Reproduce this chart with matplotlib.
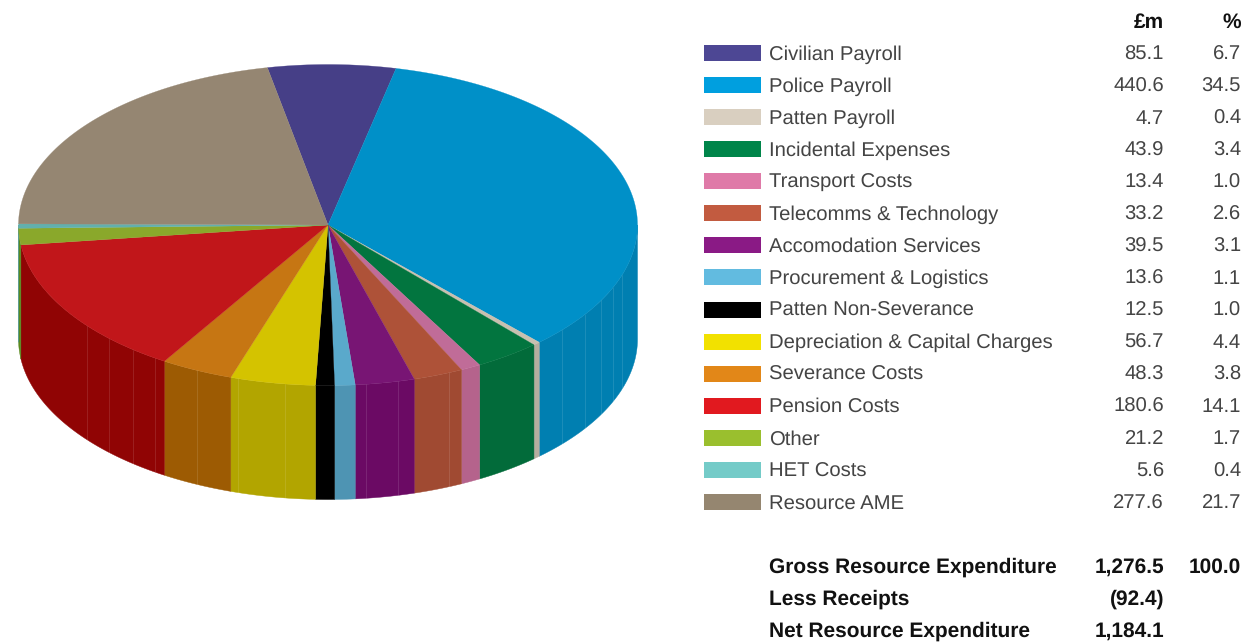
"""
Resource expenditure breakdown: extruded pie with a table-style legend.
"""
import numpy as np
import matplotlib
matplotlib.use('Agg')
import matplotlib.pyplot as plt

plt.rcParams['font.family'] = ['Liberation Sans', 'DejaVu Sans']
plt.rcParams['text.hinting'] = 'no_hinting'

# ─── Data ────────────────────────────────────────────────────────────────────

categories = ['Civilian Payroll', 'Police Payroll', 'Patten Payroll', 'Incidental Expenses',
              'Transport Costs', 'Telecomms & Technology', 'Accomodation Services',
              'Procurement & Logistics', 'Patten Non-Severance', 'Depreciation & Capital Charges',
              'Severance Costs', 'Pension Costs', 'Other', 'HET Costs', 'Resource AME']
amounts = [85.1, 440.6, 4.7, 43.9, 13.4, 33.2, 39.5, 13.6, 12.5, 56.7, 48.3, 180.6, 21.2, 5.6, 277.6]
percents = ['6.7', '34.5', '0.4', '3.4', '1.0', '2.6', '3.1', '1.1', '1.0', '4.4', '3.8', '14.1',
            '1.7', '0.4', '21.7']
totals_labels = ['Gross Resource Expenditure', 'Less Receipts', 'Net Resource Expenditure']
totals_amounts = ['1,276.5', '(92.4)', '1,184.1']
totals_percents = ['100.0', '', '']

legend_colors = ['#4d4794', '#009fdf', '#d9cfc0', '#00854a', '#df7aa8', '#c25b40', '#8a1a85',
                 '#62bbe0', '#000000', '#f2e100', '#e28718', '#e1191f', '#9abf2e', '#74cbc8',
                 '#958670']
top_colors = ['#463f87', '#0090c8', '#c8c0b0', '#02753f', '#c06c98', '#ae5238', '#781574',
              '#5aa9cb', '#000000', '#d4c300', '#c67613', '#c1161a', '#8aa82b', '#62b0ad',
              '#958672']
side_colors = ['#3c3676', '#007fb1', '#b5ae9f', '#026b3a', '#b5638c', '#a04a32', '#6b0a64',
               '#4e94b3', '#000000', '#b2a500', '#9d5b03', '#900404', '#5a8a20', '#549a97',
               '#82745f']

# ─── Pie geometry (pixels) ───────────────────────────────────────────────────

CX, CY = 328, 225
RX, RY = 309.5, 160.5
DEPTH = 114
START = -11.3  # degrees clockwise from the top of the disc


def rim(t_deg):
    t = np.radians(t_deg)
    return CX + RX * np.sin(t), CY - RY * np.cos(t)


fig = plt.figure(figsize=(12.47, 6.43), dpi=100)
fig.patch.set_facecolor('white')
ax = fig.add_axes([0, 0, 1, 1])
ax.set_xlim(0, 1247)
ax.set_ylim(643, 0)
ax.axis('off')

sweep = 360 * np.array(amounts) / np.sum(amounts)
edges = START + np.concatenate([[0], np.cumsum(sweep)])

# ─── Side walls, front half only ─────────────────────────────────────────────

for a0, a1, col in zip(edges[:-1], edges[1:], side_colors):
    lo, hi = max(a0, 90), min(a1, 270)
    if hi <= lo:
        continue
    ts = np.linspace(lo, hi, 60)
    xs, ys = rim(ts)
    ax.fill(np.r_[xs, xs[::-1]], np.r_[ys, ys[::-1] + DEPTH],
            color=col, lw=0.3, zorder=2)

# faint facet seams on the wall
for t in [108, 113, 118, 124, 131, 157, 167, 173, 188, 197, 205, 214, 219, 225, 231]:
    x, y = rim(t)
    ax.plot([x, x], [y, y + DEPTH], color='white', lw=0.6, alpha=0.13, zorder=3)

# ─── Top face ────────────────────────────────────────────────────────────────

for a0, a1, col in zip(edges[:-1], edges[1:], top_colors):
    ts = np.linspace(a0, a1, 120)
    xs, ys = rim(ts)
    ax.fill(np.r_[CX, xs], np.r_[CY, ys], color=col, lw=0.2, zorder=4)

# ─── Legend table ────────────────────────────────────────────────────────────

TEXT = '#444444'
BOLD = '#111111'
FS = 14.6
FS_BOLD = 15.0
BASE = 6.5  # row centre to text baseline

ax.text(1164, 21 + BASE, '£m', ha='right', va='baseline', fontsize=FS_BOLD, fontweight='bold', color=BOLD)
ax.text(1241, 21 + BASE, '%', ha='right', va='baseline', fontsize=FS_BOLD, fontweight='bold', color=BOLD)

row_y = 53 + 32.07 * np.arange(len(categories))
for y, name, amt, pct, col in zip(row_y, categories, amounts, percents, legend_colors):
    ax.fill([704, 761, 761, 704], [y - 8, y - 8, y + 8, y + 8], color=col, lw=0)
    ax.text(769, y + BASE, name, ha='left', va='baseline', fontsize=FS, color=TEXT)
    ax.text(1164, y + BASE, f'{amt:.1f}', ha='right', va='baseline', fontsize=FS, color=TEXT)
    ax.text(1241, y + BASE, pct, ha='right', va='baseline', fontsize=FS, color=TEXT)

for y, name, amt, pct in zip([566, 598, 630], totals_labels, totals_amounts, totals_percents):
    ax.text(769, y + BASE, name, ha='left', va='baseline', fontsize=FS_BOLD, fontweight='bold', color=BOLD)
    ax.text(1164, y + BASE, amt, ha='right', va='baseline', fontsize=FS_BOLD, fontweight='bold', color=BOLD)
    if pct:
        ax.text(1241, y + BASE, pct, ha='right', va='baseline', fontsize=FS_BOLD, fontweight='bold', color=BOLD)

plt.savefig('out.png', dpi=100, facecolor='white')
plt.close()
